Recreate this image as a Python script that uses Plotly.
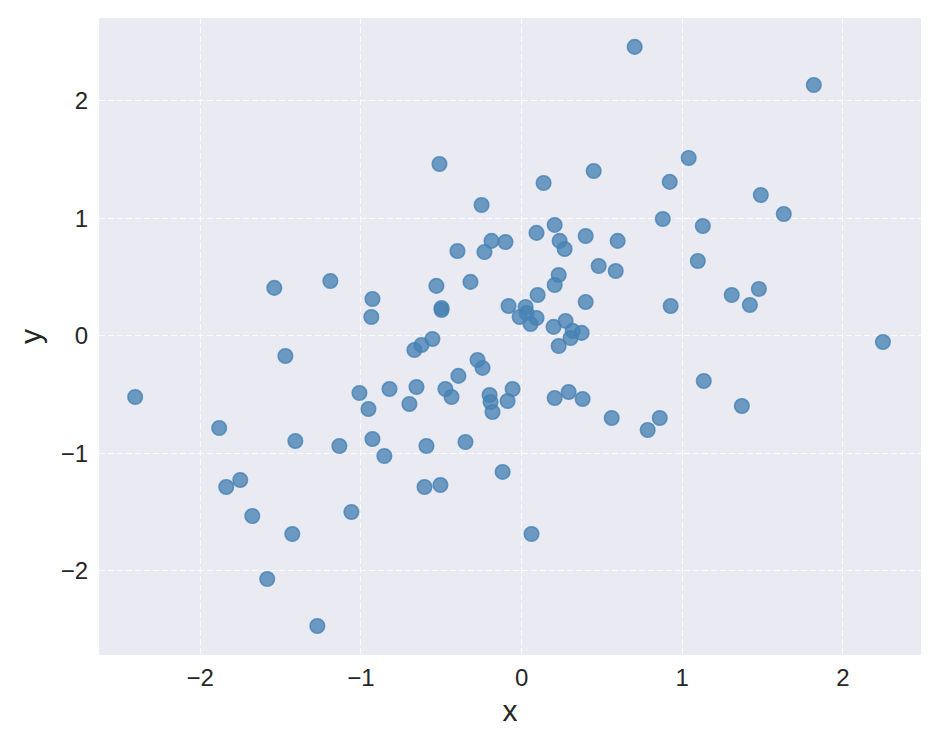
import plotly.graph_objects as go

x_vals = [-2.405, -1.882, -1.838, -1.751, -1.676, -1.583, -1.539, -1.470, -1.427, -1.408,
          -1.271, -1.190, -1.134, -1.059, -1.009, -0.953, -0.928, -0.935, -0.928, -0.854,
          -0.822, -0.698, -0.667, -0.654, -0.623, -0.604, -0.592, -0.555, -0.530, -0.511,
          -0.505, -0.498, -0.498, -0.474, -0.436, -0.399, -0.393, -0.349, -0.318, -0.274,
          -0.249, -0.243, -0.231, -0.199, -0.193, -0.187, -0.181, -0.118, -0.100, -0.087,
          -0.081, -0.056, -0.012, 0.025, 0.031, 0.056, 0.062, 0.093, 0.093, 0.100,
          0.137, 0.199, 0.206, 0.206, 0.206, 0.231, 0.231, 0.237, 0.268, 0.274,
          0.293, 0.305, 0.318, 0.374, 0.380, 0.399, 0.399, 0.449, 0.480, 0.561,
          0.586, 0.598, 0.704, 0.785, 0.860, 0.879, 0.922, 0.928, 1.040, 1.097,
          1.128, 1.134, 1.308, 1.371, 1.421, 1.477, 1.489, 1.632, 1.819, 2.249]
y_vals = [-0.519, -0.783, -1.285, -1.226, -1.532, -2.068, 0.409, -0.170, -1.685, -0.894,
          -2.468, 0.468, -0.936, -1.498, -0.485, -0.621, 0.315, 0.162, -0.877, -1.021,
          -0.451, -0.579, -0.119, -0.434, -0.077, -1.285, -0.936, -0.026, 0.426, 1.464,
          -1.268, 0.238, 0.221, -0.451, -0.519, 0.723, -0.340, -0.902, 0.460, -0.204,
          1.115, -0.272, 0.715, -0.502, -0.562, 0.809, -0.647, -1.157, 0.800, -0.553,
          0.255, -0.451, 0.162, 0.247, 0.196, 0.102, -1.685, 0.877, 0.153, 0.349,
          1.302, 0.077, -0.528, 0.945, 0.434, 0.519, -0.085, 0.809, 0.740, 0.128,
          -0.477, -0.017, 0.043, 0.026, -0.536, 0.851, 0.289, 1.404, 0.596, -0.698,
          0.553, 0.809, 2.460, -0.800, -0.698, 0.996, 1.311, 0.255, 1.515, 0.638,
          0.936, -0.383, 0.349, -0.596, 0.264, 0.400, 1.200, 1.038, 2.136, -0.051]

tick_vals = [-2, -1, 0, 1, 2]
tick_text = ["\u22122", "\u22121", "0", "1", "2"]

FONT = "Liberation Sans, Arial, sans-serif"

fig = go.Figure()
fig.add_trace(go.Scatter(
    x=x_vals, y=y_vals, mode="markers",
    marker=dict(size=14.5, color="rgba(70,130,180,0.78)",
                line=dict(color="rgba(70,130,180,0.8)", width=1.6)),
    showlegend=False,
))

axis_common = dict(
    tickvals=tick_vals, ticktext=tick_text,
    showgrid=True, gridcolor="rgba(255,255,255,0.85)", gridwidth=1.2, griddash="6px,3px",
    zeroline=False, showline=False,
    tickcolor="rgba(0,0,0,0)",
    tickfont=dict(family=FONT, size=24, color="#262626"),
)

# the page has an 8px body margin, so the figure is sized to fit the window
fig.update_layout(
    width=923, height=731,
    margin=dict(l=91, r=10, t=10, b=84),
    paper_bgcolor="white", plot_bgcolor="#EAEAF2",
    xaxis=dict(range=[-2.63, 2.486], ticks="outside", ticklen=1,
               title=dict(text="x", font=dict(family=FONT, size=30, color="#262626"), standoff=10),
               **axis_common),
    yaxis=dict(range=[-2.715, 2.706], ticks="outside", ticklen=5,
               title=dict(text="y", font=dict(family=FONT, size=30, color="#262626"), standoff=10),
               **axis_common),
)

fig.write_html("out.html")
